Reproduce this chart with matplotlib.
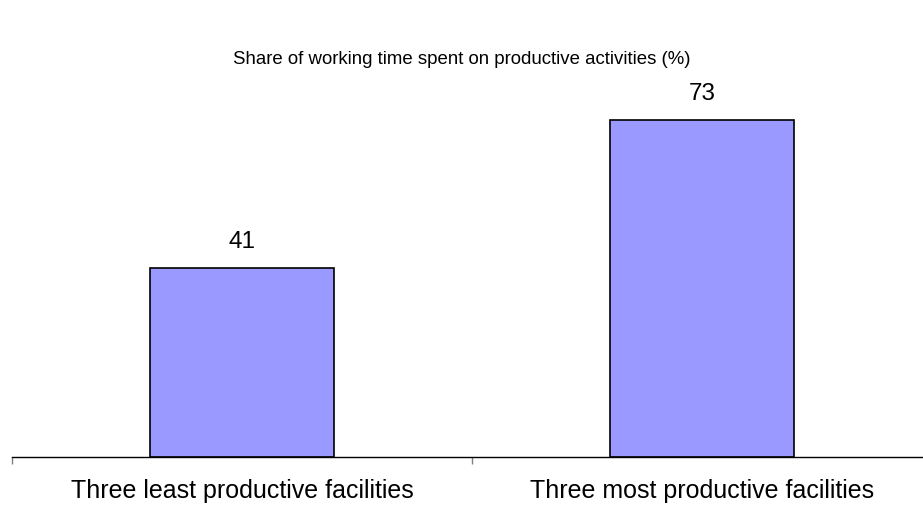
import matplotlib
matplotlib.use('Agg')
import matplotlib.pyplot as plt

# 数据
categories = ['Three least productive facilities', 'Three most productive facilities']
values = [41, 73]
title = 'Share of working time spent on productive activities (%)'

plt.rcParams['font.family'] = ['Liberation Sans', 'DejaVu Sans']

fig = plt.figure(figsize=(9.23, 5.06), dpi=100)
ax = fig.add_axes([0.013, 0.095, 0.997, 0.735])

x = list(range(len(categories)))
bars = ax.bar(x, values, width=0.4, color='#9999FF', edgecolor='black', linewidth=1.2)

ax.set_xlim(-0.5, 1.5)
ax.set_ylim(0, 80.6)

for b, v in zip(bars, values):
    ax.annotate(str(v), (b.get_x() + b.get_width() / 2, v), xytext=(0, 11.5),
                textcoords='offset points', ha='center', va='bottom', fontsize=17.5)

# 坐标轴样式
for s in ['top', 'right', 'left']:
    ax.spines[s].set_visible(False)
ax.spines['bottom'].set_linewidth(1)
ax.set_yticks([])
ax.set_xticks(x)
ax.set_xticklabels(categories, fontsize=18)
ax.tick_params(axis='x', which='major', length=0, pad=15)
ax.set_xticks([-0.5, 0.5, 1.5], minor=True)
ax.tick_params(axis='x', which='minor', length=5, color='gray', width=1)

fig.text(0.5, 0.882, title, ha='center', va='center', fontsize=13.4)

fig.savefig('out.png', dpi=100)
